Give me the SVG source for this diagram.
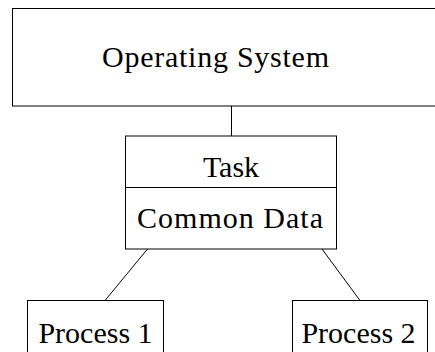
<svg xmlns="http://www.w3.org/2000/svg" width="435" height="352" viewBox="0 0 435 352">
<style>
rect{fill:#fff;stroke:#000;stroke-width:1}
line{stroke:#000;stroke-width:1}
text{font-family:"Liberation Serif","Times New Roman",serif;font-size:30px;fill:#000;text-anchor:middle}
</style>
<rect x="0" y="0" width="435" height="352" style="stroke:none"/>
<g id="connectors">
<line x1="231.5" y1="106" x2="231.5" y2="136"/>
<line x1="147.5" y1="249" x2="105" y2="300.5"/>
<line x1="322" y1="249" x2="360" y2="300.5"/>
</g>
<g id="os">
<rect x="12.5" y="8.5" width="440" height="97.5"/>
<text x="215.5" y="67" textLength="227" lengthAdjust="spacing">Operating System</text>
</g>
<g id="task">
<rect x="125.5" y="136" width="211" height="113"/>
<line x1="125.5" y1="187.5" x2="336.5" y2="187.5"/>
<text x="231" y="177">Task</text>
<text x="230" y="228" textLength="186" lengthAdjust="spacing">Common Data</text>
</g>
<g id="process1">
<rect x="27.5" y="300.5" width="136" height="60"/>
<text x="95.5" y="343">Process 1</text>
</g>
<g id="process2">
<rect x="292.5" y="300.5" width="135" height="60"/>
<text x="358.5" y="343">Process 2</text>
</g>
</svg>
